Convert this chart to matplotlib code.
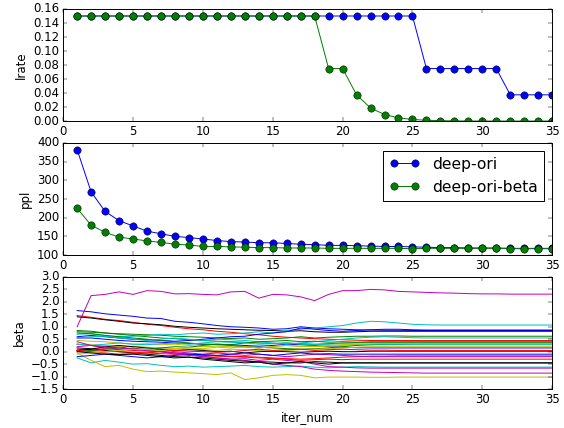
import numpy as np
from matplotlib import pyplot as plt

iters = list(range(1, 36))

lrate_ori = [0.15] * 25 + [0.075] * 6 + [0.0375] * 4
lrate_beta = [0.15, 0.15, 0.15, 0.15, 0.15, 0.15, 0.15, 0.15, 0.15, 0.15,
              0.15, 0.15, 0.15, 0.15, 0.15, 0.15, 0.15, 0.15, 0.075, 0.075,
              0.0375, 0.01875, 0.009375, 0.0046875, 0.0023, 0.0012, 0.0006, 0.0003, 0.00015, 0.0001,
              0.0001, 0.0001, 0.0001, 0.0001, 0.0001]

ppl_ori = [382, 269, 217, 192, 178, 164, 157, 150, 147, 143,
           139, 136, 135, 133, 133, 131, 129, 128, 126, 126,
           125, 124, 123, 123, 122, 121, 120, 120, 119, 119,
           119, 118, 118, 118, 118]
ppl_beta = [225, 180, 161, 148, 143, 138, 134, 129, 127, 123,
            123, 122, 121, 120, 120, 119, 119, 119, 118, 118,
            118, 118, 118, 118, 117, 118, 118, 118, 118, 118,
            118, 117, 117, 117, 117]

beta = [
    [1.65, 1.60, 1.52, 1.47, 1.42, 1.35, 1.33, 1.22, 1.18, 1.12, 1.05, 1.00, 0.98, 0.95, 0.90, 0.92, 1.00, 0.95, 0.92, 0.90,
     0.88, 0.87, 0.86, 0.86, 0.85, 0.85, 0.85, 0.85, 0.85, 0.85, 0.85, 0.85, 0.85, 0.85, 0.85],
    [0.80, 0.78, 0.75, 0.72, 0.70, 0.68, 0.66, 0.62, 0.60, 0.58, 0.55, 0.53, 0.55, 0.50, 0.52, 0.55, 0.60, 0.55, 0.58, 0.60,
     0.62, 0.62, 0.63, 0.63, 0.62, 0.62, 0.62, 0.62, 0.62, 0.62, 0.62, 0.62, 0.62, 0.62, 0.62],
    [1.45, 1.38, 1.30, 1.25, 1.18, 1.10, 1.05, 0.98, 0.92, 0.88, 0.82, 0.78, 0.72, 0.68, 0.62, 0.58, 0.55, 0.52, 0.50, 0.48,
     0.46, 0.45, 0.45, 0.45, 0.45, 0.45, 0.45, 0.45, 0.45, 0.45, 0.45, 0.45, 0.45, 0.45, 0.45],
    [-0.25, -0.45, -0.35, -0.42, -0.50, -0.48, -0.55, -0.60, -0.58, -0.62, -0.60, -0.58, -0.55, -0.60, -0.62, -0.60, -0.58, -0.62, -0.65, -0.62,
     -0.60, -0.61, -0.62, -0.62, -0.62, -0.62, -0.62, -0.62, -0.62, -0.62, -0.62, -0.62, -0.62, -0.62, -0.62],
    [1.00, 2.25, 2.30, 2.40, 2.30, 2.45, 2.42, 2.32, 2.33, 2.30, 2.28, 2.40, 2.42, 2.15, 2.30, 2.28, 2.20, 2.05, 2.30, 2.45,
     2.45, 2.50, 2.48, 2.42, 2.40, 2.38, 2.36, 2.35, 2.33, 2.32, 2.32, 2.31, 2.31, 2.31, 2.31],
    [-0.05, -0.35, -0.60, -0.55, -0.70, -0.80, -0.78, -0.82, -0.85, -0.88, -0.92, -0.85, -1.12, -1.05, -0.95, -0.92, -0.95, -1.05, -1.02, -1.02,
     -1.02, -1.03, -1.03, -1.02, -1.02, -1.02, -1.02, -1.02, -1.02, -1.02, -1.02, -1.02, -1.02, -1.02, -1.02],
    [1.40, 1.35, 1.28, 1.22, 1.15, 1.12, 1.08, 1.02, 0.98, 0.95, 0.92, 0.90, 0.88, 0.86, 0.85, 0.82, 0.84, 0.80, 0.78, 0.78,
     0.80, 0.82, 0.82, 0.82, 0.82, 0.82, 0.82, 0.82, 0.82, 0.82, 0.82, 0.82, 0.82, 0.82, 0.82],
    [0.55, 0.55, 0.50, 0.45, 0.42, 0.40, 0.38, 0.35, 0.33, 0.30, 0.30, 0.28, 0.25, 0.22, 0.25, 0.30, 0.28, 0.25, 0.20, 0.18,
     0.16, 0.15, 0.15, 0.15, 0.15, 0.15, 0.15, 0.15, 0.15, 0.15, 0.15, 0.15, 0.15, 0.15, 0.15],
    [0.85, 0.82, 0.75, 0.70, 0.65, 0.60, 0.55, 0.52, 0.48, 0.45, 0.42, 0.40, 0.38, 0.35, 0.33, 0.35, 0.32, 0.30, 0.32, 0.35,
     0.36, 0.36, 0.36, 0.36, 0.36, 0.36, 0.36, 0.36, 0.36, 0.36, 0.36, 0.36, 0.36, 0.36, 0.36],
    [0.05, 0.10, 0.12, 0.08, 0.05, 0.02, 0.00, -0.05, -0.10, -0.12, -0.15, -0.18, -0.20, -0.22, -0.25, -0.28, -0.30, -0.28, -0.25, -0.22,
     -0.20, -0.18, -0.18, -0.17, -0.17, -0.17, -0.17, -0.17, -0.17, -0.17, -0.17, -0.17, -0.17, -0.17, -0.17],
    [0.70, 0.72, 0.65, 0.60, 0.62, 0.65, 0.70, 0.68, 0.72, 0.75, 0.70, 0.72, 0.75, 0.80, 0.75, 0.85, 0.90, 0.95, 1.00, 1.05,
     1.15, 1.22, 1.20, 1.15, 1.10, 1.08, 1.07, 1.07, 1.07, 1.07, 1.07, 1.07, 1.07, 1.07, 1.07],
    [0.30, 0.25, 0.20, 0.15, 0.10, 0.05, 0.00, -0.05, -0.10, -0.18, -0.25, -0.30, -0.35, -0.42, -0.50, -0.55, -0.60, -0.70, -0.75, -0.78,
     -0.80, -0.82, -0.83, -0.84, -0.85, -0.86, -0.86, -0.86, -0.86, -0.86, -0.86, -0.86, -0.86, -0.86, -0.86],
    [0.45, 0.42, 0.40, 0.35, 0.30, 0.32, 0.28, 0.30, 0.25, 0.20, 0.22, 0.20, 0.18, 0.15, 0.20, 0.25, 0.22, 0.20, 0.22, 0.25,
     0.28, 0.28, 0.28, 0.29, 0.30, 0.30, 0.30, 0.30, 0.30, 0.30, 0.30, 0.30, 0.30, 0.30, 0.30],
    [0.15, 0.12, 0.05, 0.00, -0.05, -0.10, -0.15, -0.20, -0.22, -0.25, -0.30, -0.35, -0.38, -0.40, -0.42, -0.45, -0.45, -0.40, -0.42, -0.45,
     -0.45, -0.45, -0.45, -0.45, -0.45, -0.45, -0.45, -0.45, -0.45, -0.45, -0.45, -0.45, -0.45, -0.45, -0.45],
    [0.60, 0.65, 0.60, 0.55, 0.50, 0.48, 0.45, 0.42, 0.45, 0.50, 0.55, 0.60, 0.62, 0.70, 0.75, 0.80, 0.95, 0.90, 0.85, 0.82,
     0.85, 0.88, 0.90, 0.90, 0.88, 0.87, 0.87, 0.87, 0.87, 0.87, 0.87, 0.87, 0.87, 0.87, 0.87],
    [0.75, 0.72, 0.65, 0.60, 0.55, 0.50, 0.45, 0.40, 0.35, 0.30, 0.28, 0.25, 0.20, 0.18, 0.15, 0.12, 0.10, 0.12, 0.15, 0.20,
     0.25, 0.28, 0.30, 0.30, 0.32, 0.33, 0.33, 0.33, 0.33, 0.33, 0.33, 0.33, 0.33, 0.33, 0.33],
    [0.10, 0.05, 0.02, 0.00, -0.02, -0.05, -0.08, -0.10, -0.12, -0.15, -0.18, -0.20, -0.22, -0.25, -0.28, -0.30, -0.35, -0.32, -0.30, -0.32,
     -0.30, -0.30, -0.30, -0.30, -0.30, -0.30, -0.30, -0.30, -0.30, -0.30, -0.30, -0.30, -0.30, -0.30, -0.30],
    [0.55, 0.60, 0.62, 0.55, 0.50, 0.45, 0.50, 0.55, 0.50, 0.45, 0.50, 0.48, 0.45, 0.40, 0.35, 0.30, 0.35, 0.40, 0.45, 0.50,
     0.55, 0.58, 0.60, 0.58, 0.56, 0.55, 0.55, 0.55, 0.55, 0.55, 0.55, 0.55, 0.55, 0.55, 0.55],
    [0.20, 0.25, 0.15, 0.20, 0.10, 0.05, 0.10, 0.00, -0.05, -0.10, -0.05, -0.10, -0.15, -0.10, -0.15, -0.20, -0.15, -0.10, -0.12, -0.15,
     -0.18, -0.20, -0.20, -0.20, -0.20, -0.20, -0.20, -0.20, -0.20, -0.20, -0.20, -0.20, -0.20, -0.20, -0.20],
    [0.30, 0.28, 0.25, 0.20, 0.22, 0.18, 0.15, 0.12, 0.10, 0.08, 0.05, 0.10, 0.08, 0.05, 0.02, 0.05, 0.08, 0.10, 0.12, 0.15,
     0.18, 0.20, 0.20, 0.20, 0.20, 0.20, 0.20, 0.20, 0.20, 0.20, 0.20, 0.20, 0.20, 0.20, 0.20],
    [0.05, 0.10, 0.20, 0.25, 0.20, 0.15, 0.10, 0.05, 0.08, 0.05, 0.00, 0.02, -0.05, 0.00, 0.02, 0.00, -0.02, 0.00, 0.02, 0.00,
     0.00, 0.02, 0.02, 0.02, 0.02, 0.02, 0.02, 0.02, 0.02, 0.02, 0.02, 0.02, 0.02, 0.02, 0.02],
    [-0.20, -0.15, -0.10, -0.15, -0.20, -0.25, -0.20, -0.15, -0.10, -0.12, -0.15, -0.10, -0.05, -0.10, -0.15, -0.10, -0.05, -0.10, -0.08, -0.10,
     -0.10, -0.10, -0.10, -0.10, -0.10, -0.10, -0.10, -0.10, -0.10, -0.10, -0.10, -0.10, -0.10, -0.10, -0.10],
    [0.00, 0.05, 0.10, 0.15, 0.12, 0.10, 0.15, 0.20, 0.18, 0.25, 0.30, 0.28, 0.35, 0.40, 0.42, 0.45, 0.40, 0.42, 0.38, 0.40,
     0.38, 0.40, 0.40, 0.40, 0.40, 0.40, 0.40, 0.40, 0.40, 0.40, 0.40, 0.40, 0.40, 0.40, 0.40],
    [0.05, 0.00, -0.05, -0.10, -0.08, -0.05, 0.00, 0.05, 0.02, 0.00, -0.02, 0.00, 0.05, 0.10, 0.05, 0.08, 0.10, 0.05, 0.08, 0.10,
     0.08, 0.06, 0.06, 0.05, 0.05, 0.05, 0.05, 0.05, 0.05, 0.05, 0.05, 0.05, 0.05, 0.05, 0.05],
    [0.30, 0.25, 0.30, 0.35, 0.30, 0.28, 0.32, 0.35, 0.30, 0.35, 0.40, 0.38, 0.35, 0.30, 0.32, 0.35, 0.30, 0.28, 0.30, 0.32,
     0.30, 0.28, 0.28, 0.28, 0.28, 0.28, 0.28, 0.28, 0.28, 0.28, 0.28, 0.28, 0.28, 0.28, 0.28],
    [0.40, 0.25, 0.20, 0.10, 0.15, 0.05, 0.00, -0.10, -0.15, -0.20, -0.25, -0.30, -0.28, -0.35, -0.30, -0.35, -0.40, -0.50, -0.60, -0.62,
     -0.65, -0.66, -0.66, -0.66, -0.66, -0.66, -0.66, -0.66, -0.66, -0.66, -0.66, -0.66, -0.66, -0.66, -0.66],
    [-0.10, -0.05, 0.00, 0.05, 0.10, 0.08, 0.05, 0.10, 0.15, 0.12, 0.18, 0.15, 0.20, 0.15, 0.20, 0.25, 0.20, 0.22, 0.25, 0.28,
     0.30, 0.32, 0.33, 0.33, 0.33, 0.33, 0.33, 0.33, 0.33, 0.33, 0.33, 0.33, 0.33, 0.33, 0.33],
    [0.00, -0.05, -0.10, -0.12, -0.10, -0.15, -0.20, -0.25, -0.22, -0.30, -0.35, -0.40, -0.45, -0.42, -0.50, -0.45, -0.40, -0.45, -0.50, -0.45,
     -0.45, -0.45, -0.45, -0.45, -0.45, -0.45, -0.45, -0.45, -0.45, -0.45, -0.45, -0.45, -0.45, -0.45, -0.45],
]

plt.style.use('classic')
figure = plt.figure(figsize=(564 / 70.5, 428 / 70.5), dpi=70.5, facecolor='white')
figure.subplots_adjust(left=0.112, right=0.979, top=0.979, bottom=0.091, hspace=0.195)

ax1 = figure.add_subplot(311)
ax1.plot(iters, lrate_ori, 'o-', markersize=7.5)
ax1.plot(iters, lrate_beta, 'o-', markersize=7.5)
ax1.set_ylabel('lrate')
ax1.set_ylim(0, 0.16)

ax2 = figure.add_subplot(312)
ax2.plot(iters, ppl_ori, 'o-', markersize=7.5, label='deep-ori')
ax2.plot(iters, ppl_beta, 'o-', markersize=7.5, label='deep-ori-beta')
ax2.set_ylabel('ppl')
ax2.set_ylim(100, 400)
ax2.legend(loc='upper right', fontsize=15.8)

ax3 = figure.add_subplot(313)
for b in beta:
    ax3.plot(iters, b)
ax3.set_ylabel('beta')
ax3.set_xlabel('iter_num')
ax3.set_ylim(-1.5, 3.0)

for ax in (ax1, ax2, ax3):
    ax.set_xlim(0, 35)

plt.savefig('out.png', dpi=70.5, facecolor='white')
